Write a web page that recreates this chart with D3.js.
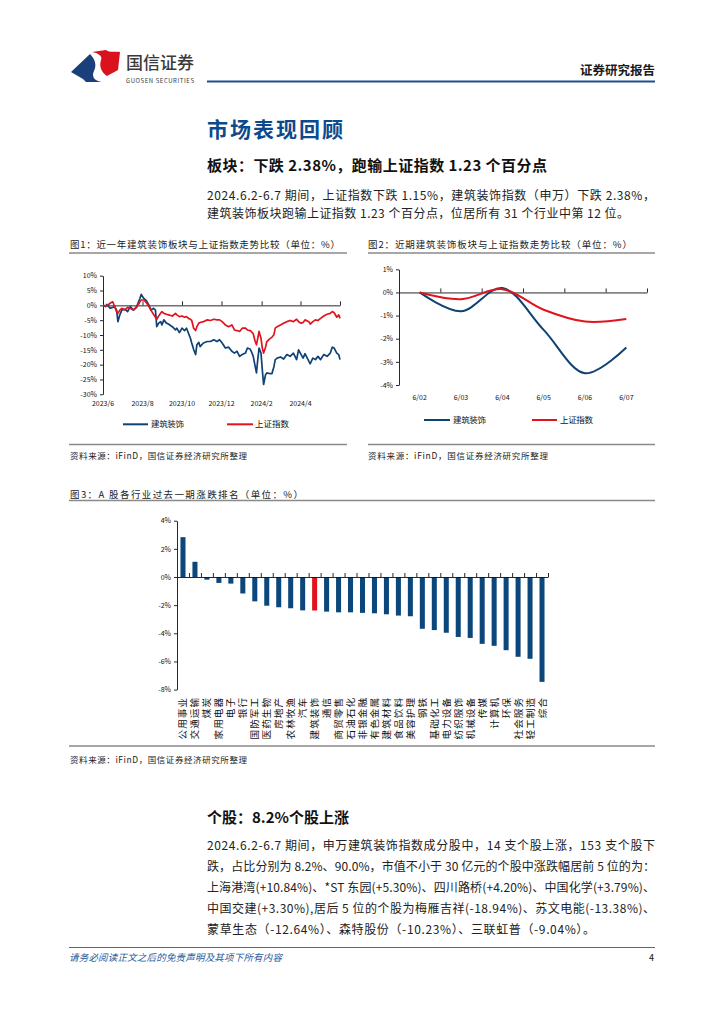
<!DOCTYPE html>
<html><head><meta charset="utf-8">
<script src="https://cdn.jsdelivr.net/npm/d3@7"></script>
<style>
body{margin:0;background:#fff}
svg{display:block}
text{font-family:"Noto Sans CJK SC","Noto Sans",sans-serif}
</style>
</head><body>
<svg id="page" width="724" height="1024"></svg>
<script>
// ---------------- DATA ----------------
// Figure 1: one-year trend (%), 建筑装饰 vs 上证指数
const dates1 = ["2023-06-01","2023-06-05","2023-06-07","2023-06-12","2023-06-16","2023-06-19","2023-06-22","2023-06-24","2023-06-27","2023-06-30",
"2023-07-05","2023-07-09","2023-07-13","2023-07-18","2023-07-23","2023-07-28","2023-07-30","2023-08-03","2023-08-07","2023-08-11",
"2023-08-14","2023-08-18","2023-08-21","2023-08-23","2023-08-26","2023-08-29","2023-08-31","2023-09-03","2023-09-07","2023-09-10",
"2023-09-16","2023-09-21","2023-09-23","2023-09-27","2023-10-01","2023-10-05","2023-10-08","2023-10-11","2023-10-14","2023-10-16",
"2023-10-19","2023-10-22","2023-10-24","2023-10-27","2023-10-29","2023-11-03","2023-11-09","2023-11-14","2023-11-19","2023-11-24",
"2023-11-28","2023-12-02","2023-12-07","2023-12-12","2023-12-17","2023-12-21","2023-12-25","2023-12-29","2024-01-02","2024-01-07",
"2024-01-10","2024-01-14","2024-01-16","2024-01-19","2024-01-22","2024-01-24","2024-01-26","2024-01-28","2024-01-31","2024-02-02",
"2024-02-04","2024-02-07","2024-02-09","2024-02-13","2024-02-17","2024-02-20","2024-02-22","2024-02-25","2024-03-01","2024-03-06",
"2024-03-11","2024-03-16","2024-03-21","2024-03-26","2024-03-29","2024-04-02","2024-04-05","2024-04-08","2024-04-14","2024-04-16",
"2024-04-20","2024-04-24","2024-04-28","2024-05-02","2024-05-07","2024-05-12","2024-05-17","2024-05-20","2024-05-23","2024-05-27",
"2024-05-30","2024-06-01"];
const sectorYear = [0,-0.4,0.3,-1.0,-0.7,-0.4,-1.6,-5.5,-3.2,-1.6,
-1.3,-2.1,-0.4,-1.6,-0.4,2.3,3.7,2.3,1.6,0.1,
-1.6,-1.0,-1.6,-7.2,-6.0,-5.5,-6.6,-4.9,-6.0,-6.3,
-7.2,-8.3,-7.7,-9.2,-7.7,-8.5,-7.7,-9.4,-11.1,-12.7,
-14.9,-16.6,-13.3,-12.5,-13.9,-12.7,-12.2,-12.2,-11.6,-12.2,
-11.6,-12.7,-14.4,-14.1,-15.5,-16.1,-15.5,-17.2,-16.6,-16.1,
-14.4,-14.7,-15.5,-17.2,-20.6,-22.8,-18.3,-14.4,-16.1,-21.7,
-26.7,-23.4,-22.8,-23.0,-23.0,-20.6,-18.3,-17.8,-17.4,-18.1,
-16.6,-17.2,-16.1,-18.3,-15.0,-16.6,-17.8,-16.3,-18.9,-19.7,
-17.8,-18.3,-17.2,-18.3,-16.6,-17.2,-16.1,-14.1,-14.4,-16.1,
-16.6,-18.3];
const indexYear = [0,-0.2,-0.2,0.7,1.2,-0.4,-2.1,-2.7,-1.6,-1.0,
-1.6,-0.7,-1.0,-1.6,-0.7,1.2,1.8,1.8,0.9,-0.4,
-1.6,-3.0,-4.0,-4.7,-3.6,-2.7,-2.1,-2.7,-3.0,-3.2,
-3.6,-2.7,-3.2,-3.8,-3.6,-4.0,-3.8,-4.4,-4.7,-5.1,
-7.7,-8.5,-7.2,-6.0,-5.8,-5.5,-4.9,-5.1,-4.7,-4.9,
-4.9,-5.5,-6.6,-7.2,-6.6,-8.3,-8.5,-8.8,-7.7,-7.7,
-8.3,-8.5,-8.8,-9.6,-12.2,-13.3,-11.1,-8.8,-11.1,-14.4,
-16.1,-14.1,-12.2,-11.4,-10.7,-9.9,-7.7,-7.2,-6.6,-6.0,
-5.5,-5.1,-5.5,-4.7,-5.5,-6.0,-5.8,-4.9,-5.5,-6.3,
-5.5,-4.9,-5.1,-4.4,-3.6,-3.0,-2.7,-2.1,-2.5,-4.0,
-3.2,-4.4];
const xTickDates1 = ["2023-06-01","2023-08-01","2023-10-01","2023-12-01","2024-02-01","2024-04-01","2024-06-01"];
const xTickLabels1 = ["2023/6","2023/8","2023/10","2023/12","2024/2","2024/4",""];
const yTicks1 = [10,5,0,-5,-10,-15,-20,-25,-30];

// Figure 2: recent week (%)
const days2 = ["6/02","6/03","6/04","6/05","6/06","6/07"];
const sectorWeek = [0,-0.81,0.19,-1.62,-3.49,-2.38];
const indexWeek = [0,-0.29,0.14,-0.75,-1.26,-1.15];
const yTicks2 = [1,0,-1,-2,-3,-4];

// Figure 3: industry ranking (%)
const industries = ["公用事业","交通运输","煤炭","家用电器","电子","银行","国防军工","医药生物","房地产","农林牧渔",
"汽车","建筑装饰","通信","商贸零售","石油石化","非银金融","有色金属","建筑材料","食品饮料","美容护理",
"钢铁","基础化工","电力设备","纺织服饰","机械设备","传媒","计算机","环保","社会服务","轻工制造","综合"];
const changes = [2.83,1.08,-0.19,-0.42,-0.47,-1.17,-1.73,-2.04,-2.15,-2.22,
-2.37,-2.38,-2.46,-2.51,-2.51,-2.55,-2.58,-2.65,-2.74,-2.79,
-3.68,-3.77,-3.96,-4.26,-4.33,-4.75,-4.89,-5.20,-5.67,-5.81,-7.45];
const highlight = "建筑装饰";
const yTicks3 = [4,2,0,-2,-4,-6,-8];

const seriesNames = ["建筑装饰","上证指数"];

// ---------------- STYLE ----------------
const BLUE = "#0e4275", RED = "#e1141d", BARBLUE = "#0c477b";
const NUMFONT = "'Liberation Sans', Arial, sans-serif";

const svg = d3.select("#page");

function T(sel, x, y, str, o = {}) {
  const t = sel.append("text").attr("x", x).attr("y", y).text(str)
    .attr("font-size", o.size || 12).attr("fill", o.fill || "#222");
  if (o.weight) t.attr("font-weight", o.weight);
  if (o.anchor) t.attr("text-anchor", o.anchor);
  if (o.len) t.attr("textLength", o.len).attr("lengthAdjust", "spacing");
  if (o.family) t.attr("font-family", o.family);
  if (o.style) t.attr("font-style", o.style);
  return t;
}
function hline(x1, x2, y, color, w) {
  svg.append("line").attr("x1", x1).attr("x2", x2).attr("y1", y).attr("y2", y)
    .attr("stroke", color).attr("stroke-width", w);
}

// ---------------- HEADER ----------------
const logo = svg.append("g").attr("transform", "translate(71,50)");
logo.append("path").attr("fill", "#1b3f7a")
  .attr("d", "M0,22 L19,4 C24,9 26,15 23,21 C20,27 24,31 31,32 L15,32 L12,29 Z");
logo.append("path").attr("fill", "#d9121d")
  .attr("d", "M21,2 L35,0 C39,3 44,1 49,2 L47,20 L36,26 C30,22 28,16 30,10 C32,6 27,3 21,2 Z");
T(svg, 126, 69, "国信证券", {size: 17, fill: "#3a3a3a", weight: 500, len: 68});
T(svg, 126, 82.5, "GUOSEN SECURITIES", {size: 6, fill: "#3a3a3a", len: 68, family: NUMFONT});
T(svg, 655, 74.5, "证券研究报告", {size: 12.5, fill: "#1a1a1a", weight: 700, anchor: "end"});
hline(207, 655, 81.5, "#1d4f8c", 2);

// ---------------- SECTION TEXT ----------------
T(svg, 207, 136.5, "市场表现回顾", {size: 21, fill: "#0b4a8c", weight: 700, len: 136});
T(svg, 207, 170.5, "板块：下跌 2.38%，跑输上证指数 1.23 个百分点", {size: 15, fill: "#111", weight: 700, len: 340});
T(svg, 207, 199.5, "2024.6.2-6.7 期间，上证指数下跌 1.15%，建筑装饰指数（申万）下跌 2.38%，", {size: 12, len: 448});
T(svg, 207, 218, "建筑装饰板块跑输上证指数 1.23 个百分点，位居所有 31 个行业中第 12 位。", {size: 12, len: 422});

// ---------------- FIGURE 1 ----------------
T(svg, 70, 247.5, "图1：近一年建筑装饰板块与上证指数走势比较（单位：%）", {size: 9.5, fill: "#222", len: 270});
hline(69, 347, 253, "#8a8a8a", 1.5);
const parse = d3.timeParse("%Y-%m-%d");
const d1 = dates1.map(parse);
const x1 = d3.scaleTime().domain([parse("2023-06-01"), parse("2024-06-01")]).range([103, 340]);
const y1 = d3.scaleLinear().domain([-30, 10]).range([394.3, 275.7]);
const g1 = svg.append("g");
const yAx1 = g1.append("g").attr("transform", "translate(103,0)")
  .call(d3.axisLeft(y1).tickValues(yTicks1).tickSize(3).tickSizeOuter(0).tickPadding(3).tickFormat(d => d + "%"));
yAx1.selectAll("text").attr("font-size", 7).attr("font-family", NUMFONT).attr("fill", "#111");
const xAx1 = g1.append("g").attr("transform", `translate(0,${y1(0)})`)
  .call(d3.axisTop(x1).tickValues(xTickDates1.map(parse)).tickSize(4).tickSizeOuter(0).tickFormat(""));
g1.selectAll(".domain, .tick line").attr("stroke", "#111").attr("stroke-width", 0.9);
xTickDates1.forEach((d, i) => {
  T(g1, x1(parse(d)), 405.5, xTickLabels1[i], {size: 7, fill: "#111", anchor: "middle", family: NUMFONT});
});
const line1 = d3.line().x((d, i) => x1(d1[i])).y(d => y1(d));
g1.append("path").datum(sectorYear).attr("d", line1).attr("fill", "none").attr("stroke", BLUE).attr("stroke-width", 1.7).attr("stroke-linejoin", "round");
g1.append("path").datum(indexYear).attr("d", line1).attr("fill", "none").attr("stroke", RED).attr("stroke-width", 1.7).attr("stroke-linejoin", "round");
// legend
hline(123, 148, 424.3, BLUE, 2);
T(g1, 151, 427.3, seriesNames[0], {size: 8.5, fill: "#111", len: 33});
hline(227, 253, 424.3, RED, 2);
T(g1, 255, 427.3, seriesNames[1], {size: 8.5, fill: "#111", len: 34});
hline(69, 347, 444.5, "#8a8a8a", 1.5);
T(svg, 70, 459, "资料来源：iFinD，国信证券经济研究所整理", {size: 8.5, fill: "#222", len: 177});

// ---------------- FIGURE 2 ----------------
T(svg, 368, 247.5, "图2：近期建筑装饰板块与上证指数走势比较（单位：%）", {size: 9.5, fill: "#222", len: 264});
hline(368, 655, 253, "#8a8a8a", 1.5);
const x2 = d3.scalePoint().domain(days2).range([399, 647]).padding(0.5);
const step2 = x2.step();
const y2 = d3.scaleLinear().domain([-4, 1]).range([385, 269.3]);
const g2 = svg.append("g");
const yAx2 = g2.append("g").attr("transform", "translate(399,0)")
  .call(d3.axisLeft(y2).tickValues(yTicks2).tickSize(3).tickSizeOuter(0).tickPadding(3).tickFormat(d => d + "%"));
yAx2.selectAll("text").attr("font-size", 7).attr("font-family", NUMFONT).attr("fill", "#111");
const bounds2 = days2.map(d => x2(d) + step2 / 2);
const xb2 = d3.scaleLinear().domain([399, 647]).range([399, 647]);
g2.append("g").attr("transform", `translate(0,${y2(0)})`)
  .call(d3.axisTop(xb2).tickValues(bounds2).tickSize(4).tickSizeOuter(0).tickFormat(""));
g2.selectAll(".domain, .tick line").attr("stroke", "#111").attr("stroke-width", 0.9);
days2.forEach(d => T(g2, x2(d), 400, d, {size: 7, fill: "#111", anchor: "middle", family: NUMFONT}));
const line2 = d3.line().x((d, i) => x2(days2[i])).y(d => y2(d)).curve(d3.curveCatmullRom.alpha(0.5));
g2.append("path").datum(sectorWeek).attr("d", line2).attr("fill", "none").attr("stroke", BLUE).attr("stroke-width", 2);
g2.append("path").datum(indexWeek).attr("d", line2).attr("fill", "none").attr("stroke", RED).attr("stroke-width", 2);
hline(424, 450, 420, BLUE, 2);
T(g2, 453, 423, seriesNames[0], {size: 8.5, fill: "#111", len: 33});
hline(532, 557, 420, RED, 2);
T(g2, 560, 423, seriesNames[1], {size: 8.5, fill: "#111", len: 33});
hline(368, 655, 444.5, "#8a8a8a", 1.5);
T(svg, 368, 459, "资料来源：iFinD，国信证券经济研究所整理", {size: 8.5, fill: "#222", len: 180});

// ---------------- FIGURE 3 ----------------
T(svg, 70, 497.5, "图3：A 股各行业过去一期涨跌排名（单位：%）", {size: 9.5, fill: "#222", len: 233});
hline(69, 655, 500.5, "#8a8a8a", 1.5);
const x3 = d3.scaleBand().domain(industries).range([177, 548]).paddingInner(0.58).paddingOuter(0.29);
const step3 = x3.step();
const y3 = d3.scaleLinear().domain([-8, 4]).range([689.6, 520.7]);
const g3 = svg.append("g");
g3.selectAll("rect").data(changes).join("rect")
  .attr("x", (d, i) => x3(industries[i]))
  .attr("width", x3.bandwidth())
  .attr("y", d => y3(Math.max(0, d)))
  .attr("height", d => Math.abs(y3(d) - y3(0)))
  .attr("fill", (d, i) => industries[i] === highlight ? RED : BARBLUE);
const yAx3 = g3.append("g").attr("transform", "translate(177,0)")
  .call(d3.axisLeft(y3).tickValues(yTicks3).tickSize(3).tickSizeOuter(0).tickPadding(3).tickFormat(d => d + "%"));
yAx3.selectAll("text").attr("font-size", 7).attr("font-family", NUMFONT).attr("fill", "#111");
const xb3 = d3.scaleLinear().domain([177, 548]).range([177, 548]);
const bounds3 = industries.map(d => x3(d) + x3.bandwidth() / 2 + step3 / 2);
g3.append("g").attr("transform", `translate(0,${y3(0)})`)
  .call(d3.axisTop(xb3).tickValues(bounds3).tickSize(4).tickSizeOuter(0).tickFormat(""));
g3.selectAll(".domain, .tick line").attr("stroke", "#111").attr("stroke-width", 0.9);
industries.forEach(d => {
  const cx = x3(d) + x3.bandwidth() / 2;
  g3.append("text").attr("transform", `translate(${cx + 3.5},697) rotate(-90)`)
    .attr("text-anchor", "end").attr("font-size", 9.6).attr("fill", "#111")
    .attr("letter-spacing", 1).text(d);
});
hline(69, 655, 746, "#8a8a8a", 1.5);
T(svg, 70, 763, "资料来源：iFinD，国信证券经济研究所整理", {size: 8.5, fill: "#222", len: 177});

// ---------------- SECTION 2 ----------------
T(svg, 207, 822.5, "个股：8.2%个股上涨", {size: 15, fill: "#111", weight: 700, len: 142});
const para2 = [
  ["2024.6.2-6.7 期间，申万建筑装饰指数成分股中，14 支个股上涨，153 支个股下", 448],
  ["跌，占比分别为 8.2%、90.0%，市值不小于 30 亿元的个股中涨跌幅居前 5 位的为：", 448],
  ["上海港湾(+10.84%)、*ST 东园(+5.30%)、四川路桥(+4.20%)、中国化学(+3.79%)、", 448],
  ["中国交建(+3.30%),居后 5 位的个股为梅雁吉祥(-18.94%)、苏文电能(-13.38%)、", 448],
  ["蒙草生态（-12.64%）、森特股份（-10.23%）、三联虹普（-9.04%）。", 388]
];
para2.forEach((p, i) => T(svg, 207, 849.5 + i * 21, p[0], {size: 12, len: p[1]}));

// ---------------- FOOTER ----------------
hline(69, 655, 947.5, "#3b6aa8", 1);
T(svg, 69, 960.5, "请务必阅读正文之后的免责声明及其项下所有内容", {size: 9.5, fill: "#2a5a9a", style: "italic", len: 213});
T(svg, 654, 960.5, "4", {size: 9, fill: "#111", anchor: "end", family: NUMFONT});
</script>
</body></html>
